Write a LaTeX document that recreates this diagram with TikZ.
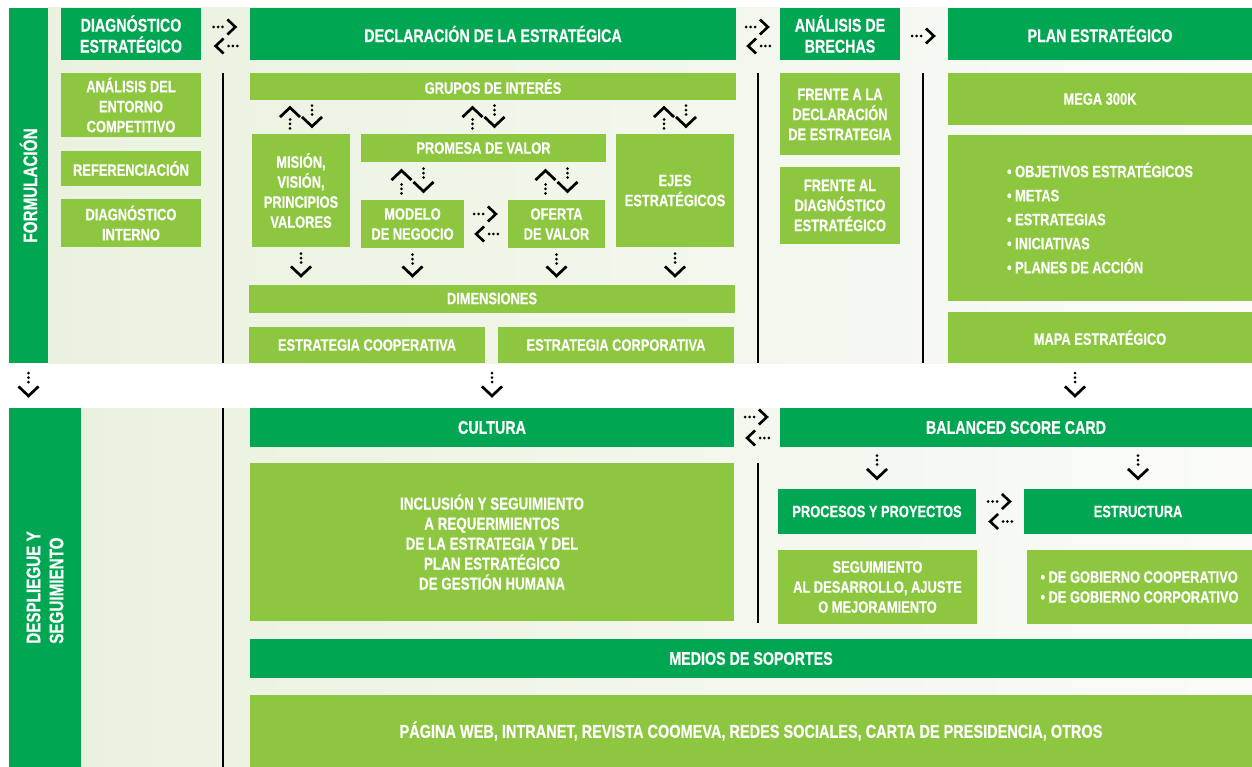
\documentclass[tikz,border=0pt]{standalone}
\usepackage{fontspec}
\setmainfont{Liberation Sans}[FakeStretch=0.78, BoldFeatures={FakeBold=0.5}]
\usetikzlibrary{arrows.meta}

\definecolor{verdeosc}{HTML}{00A651}
\definecolor{verdecla}{HTML}{8DC63F}
\definecolor{fondoiz}{HTML}{EAF2DF}
\definecolor{fondode}{HTML}{FAFBF8}

\tikzset{
  caja/.style={inner sep=0pt, align=center, text=white, font=\bfseries\fontsize{16.5}{20}\selectfont},
  osc/.style={caja, fill=verdeosc},
  cla/.style={caja, fill=verdecla},
  titulo/.style={osc, font=\bfseries\fontsize{18.3}{21}\selectfont},
  barra/.style={caja, rotate=90, font=\bfseries\fontsize{19.5}{23}\selectfont},
  tam/.style 2 args={minimum width=#1, minimum height=#2},
  puntos/.style={line width=3pt, line cap=round, dash pattern=on 0pt off 4.4pt on 0pt off 4.4pt on 0pt off 60pt},
  fh/.style={puntos, -{Straight Barb[length=8pt, width=15pt, line width=2.6pt]}},
  fv/.style={puntos, -{Straight Barb[length=9.5pt, width=20pt, line width=2.7pt]}},
  hueco/.style={shorten <=#1, shorten >=#1},
  divisor/.style={line width=1.2pt},
}

\begin{document}
\begin{tikzpicture}[x=1pt, y=-1pt]
\useasboundingbox (0,0) rectangle (1252,767);
\shade[left color=fondoiz, right color=fondode] (48,8) rectangle (1252,363);
\shade[left color=fondoiz, right color=fondode] (81,408) rectangle (1252,767);
\draw[divisor] (223,73) -- (223,363) (758,73) -- (758,363) (923,73) -- (923,363);
\draw[divisor] (223,408) -- (223,767) (758,463) -- (758,623);

% formulacion
\node[osc, tam={39}{355}] (formul) at (28.5,185.5) {};
\node[barra] at (formul) {FORMULACIÓN};
\node[titulo, tam={140}{52}] (diag) at (131,34) {DIAGNÓSTICO\\ESTRATÉGICO};
\node[titulo, tam={486}{52}] (decl) at (493,34) {DECLARACIÓN DE LA ESTRATÉGICA};
\node[titulo, tam={120}{52}] (brechas) at (840,34) {ANÁLISIS DE\\BRECHAS};
\node[titulo, tam={304}{52}] (plan) at (1100,34) {PLAN ESTRATÉGICO};

\node[cla, tam={140}{64}] (entorno) at (131,105) {ANÁLISIS DEL\\ENTORNO\\COMPETITIVO};
\node[cla, tam={140}{35}] (refer) at (131,168.5) {REFERENCIACIÓN};
\node[cla, tam={140}{48}] (dinterno) at (131,223) {DIAGNÓSTICO\\INTERNO};

\node[cla, tam={486}{27}] (grupos) at (493,86.5) {GRUPOS DE INTERÉS};
\node[cla, tam={98}{113}] (mision) at (301,190.5) {MISIÓN,\\VISIÓN,\\PRINCIPIOS\\VALORES};
\node[cla, tam={245}{28}] (promesa) at (483.5,148) {PROMESA DE VALOR};
\node[cla, tam={103}{48}] (modelo) at (412.5,224) {MODELO\\DE NEGOCIO};
\node[cla, tam={97}{48}] (oferta) at (556.5,224) {OFERTA\\DE VALOR};
\node[cla, tam={118}{113}] (ejes) at (675,190.5) {EJES\\ESTRATÉGICOS};
\node[cla, tam={486}{28}] (dimen) at (492,298.5) {DIMENSIONES};
\node[cla, tam={236}{36}] (estcoop) at (367,345) {ESTRATEGIA COOPERATIVA};
\node[cla, tam={236}{36}] (estcorp) at (616,345) {ESTRATEGIA CORPORATIVA};

\node[cla, tam={120}{82}] (frentedecl) at (840,114.5) {FRENTE A LA\\DECLARACIÓN\\DE ESTRATEGIA};
\node[cla, tam={120}{77}] (frentediag) at (840,205.5) {FRENTE AL\\DIAGNÓSTICO\\ESTRATÉGICO};

\node[cla, tam={304}{52}] (mega) at (1100,99) {MEGA 300K};
\node[cla, tam={304}{166}, align=left, font=\bfseries\fontsize{16.5}{24}\selectfont] (objetivos) at (1100,218)
  {• OBJETIVOS ESTRATÉGICOS\\• METAS\\• ESTRATEGIAS\\• INICIATIVAS\\• PLANES DE ACCIÓN};
\node[cla, tam={304}{51}] (mapa) at (1100,337.5) {MAPA ESTRATÉGICO};

% despliegue y seguimiento
\node[osc, tam={72}{359}] (despl) at (45,587.5) {};
\node[barra, align=left] at (despl) {DESPLIEGUE Y\\SEGUIMIENTO};
\node[titulo, tam={484}{39}] (cultura) at (492,427.5) {CULTURA};
\node[titulo, tam={472}{39}] (bsc) at (1016,427.5) {BALANCED SCORE CARD};
\node[cla, tam={484}{158}, font=\bfseries\fontsize{17.2}{20}\selectfont] (inclusion) at (492,542) {INCLUSIÓN Y SEGUIMIENTO\\A REQUERIMIENTOS\\DE LA ESTRATEGIA Y DEL\\PLAN ESTRATÉGICO\\DE GESTIÓN HUMANA};
\node[osc, tam={198}{45}] (procesos) at (877,511.5) {PROCESOS Y PROYECTOS};
\node[osc, tam={228}{45}] (estruc) at (1138,511.5) {ESTRUCTURA};
\node[cla, tam={199}{74}] (seguim) at (877.5,587) {SEGUIMIENTO\\AL DESARROLLO, AJUSTE\\O MEJORAMIENTO};
\node[cla, tam={225}{74}, align=left] (gobierno) at (1139.5,587) {• DE GOBIERNO COOPERATIVO\\• DE GOBIERNO CORPORATIVO};
\node[titulo, tam={1002}{39}] (medios) at (751,658.5) {MEDIOS DE SOPORTES};
\node[cla, tam={1002}{72}, font=\bfseries\fontsize{18.6}{21}\selectfont] (pagina) at (751,731) {PÁGINA WEB, INTRANET, REVISTA COOMEVA, REDES SOCIALES, CARTA DE PRESIDENCIA, OTROS};

% flechas
\draw[fh, hueco=12.5] ([yshift=7pt]diag.east) -- ([yshift=7pt]decl.west);
\draw[fh, hueco=12.5] ([yshift=-12pt]decl.west) -- ([yshift=-12pt]diag.east);
\draw[fh, hueco=10] ([yshift=7pt]decl.east) -- ([yshift=7pt]brechas.west);
\draw[fh, hueco=10] ([yshift=-12pt]brechas.west) -- ([yshift=-12pt]decl.east);
\draw[fh, hueco=12] ([yshift=-2pt]brechas.east) -- ([yshift=-2pt]plan.west);
\foreach \n in {mision, promesa, ejes}{
  \draw[fv, hueco=5.5] ([xshift=-11pt]\n.north) -- ([xshift=-11pt]\n.north |- grupos.south);
  \draw[fv, hueco=5.5] ([xshift=11pt]grupos.south -| \n.north) -- ([xshift=11pt]\n.north);
}
\foreach \n in {modelo, oferta}{
  \draw[fv, hueco=6.5] ([xshift=-11pt]\n.north) -- ([xshift=-11pt]\n.north |- promesa.south);
  \draw[fv, hueco=6.5] ([xshift=11pt]promesa.south -| \n.north) -- ([xshift=11pt]\n.north);
}
\draw[fh, hueco=10] ([yshift=10pt]modelo.east) -- ([yshift=10pt]oferta.west);
\draw[fh, hueco=10] ([yshift=-10pt]oferta.west) -- ([yshift=-10pt]modelo.east);
\foreach \n in {mision, modelo, oferta, ejes}
  \draw[fv, hueco=6.5] (\n.south) -- (\n.south |- dimen.north);

\draw[fv, hueco=10] (formul.south) -- (formul.south |- despl.north);
\draw[fv, hueco=10] (dimen.south |- estcoop.south) -- (cultura.north);
\draw[fv, hueco=10] ([xshift=-25pt]mapa.south) -- ([xshift=-25pt]mapa.south |- bsc.north);

\draw[fh, hueco=11] ([yshift=10.5pt]cultura.east) -- ([yshift=10.5pt]bsc.west);
\draw[fh, hueco=11] ([yshift=-10.5pt]bsc.west) -- ([yshift=-10.5pt]cultura.east);
\foreach \n in {procesos, estruc}
  \draw[fv, hueco=8.5] (\n.north |- bsc.south) -- (\n.north);
\draw[fh, hueco=12] ([yshift=10pt]procesos.east) -- ([yshift=10pt]estruc.west);
\draw[fh, hueco=12] ([yshift=-10pt]estruc.west) -- ([yshift=-10pt]procesos.east);
\end{tikzpicture}
\end{document}
